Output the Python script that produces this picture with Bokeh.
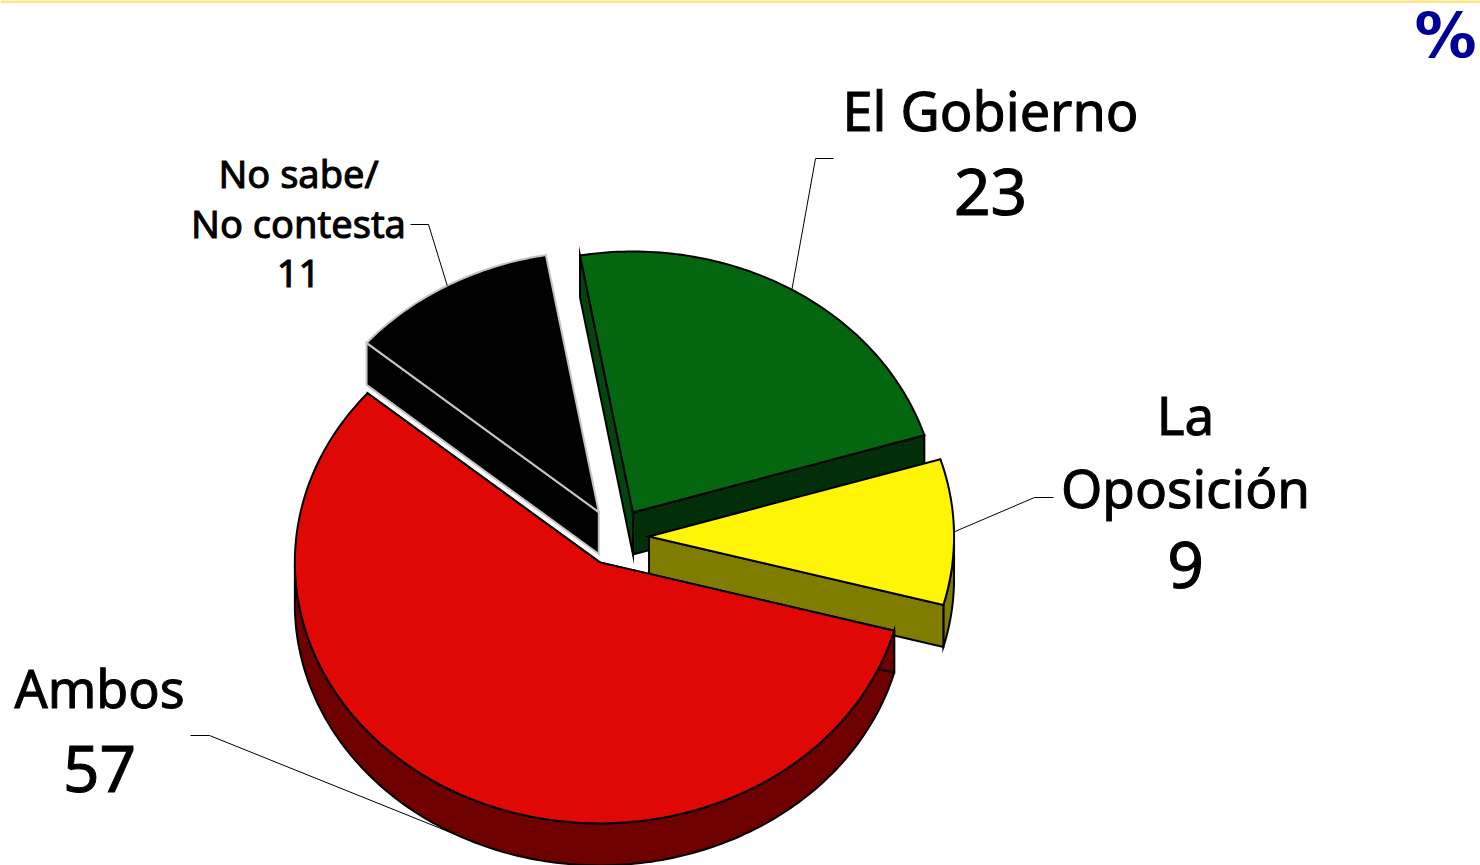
import math
from bokeh.plotting import figure
from bokeh.models import Range1d
from bokeh.core.properties import value
from bokeh.embed import file_html
from bokeh.resources import INLINE

# ---- data
categories = ["El Gobierno", "La Oposición", "Ambos", "No sabe/ No contesta"]
values = [23, 9, 57, 11]

# ---- styles
top_colors = ["#04660F", "#FFF505", "#DF0805", "#000000"]
rim_colors = ["#033C0A", "#807C00", "#6E0000", "#000000"]
start_wall_colors = ["#03450C", "#807C00", "#6E0000", "#000000"]
end_wall_colors = ["#022E08", "#807C00", "#6E0000", "#000000"]
edge_colors = ["#000000", "#000000", "#000000", "#C4C4C4"]
draw_order = [3, 0, 1, 2]

# ---- 3D pie geometry (page pixels)
CX, CY = 615.0, 536.5
RX, RY = 305.0, 261.0
DEPTH = 42.0
EXPLODE = 0.11
START_DEG = 100.0

W, H = 1480, 865
p = figure(width=W, height=H, x_range=Range1d(0, W), y_range=Range1d(H, 0),
           toolbar_location=None, output_backend="svg",
           min_border=0, outline_line_color=None, background_fill_color="white",
           border_fill_color="white")
p.axis.visible = False
p.grid.visible = False


def poly(xs, ys, fill, edge, lw=2):
    p.patch(xs, ys, fill_color=fill, line_color=edge, line_width=lw, line_join="miter")


def wall(ax, ay, bx, by, fill, edge):
    poly([ax, bx, bx, ax], [ay, by, by + DEPTH, ay + DEPTH], fill, edge)


total = sum(values)
slices = []
a = START_DEG
for v in values:
    span = v / total * 360
    a0, a1 = a, a - span  # clockwise
    mid = math.radians((a0 + a1) / 2)
    ox = CX + EXPLODE * RX * math.cos(mid)
    oy = CY - EXPLODE * RY * math.sin(mid)
    slices.append((ox, oy, a0, a1, mid))
    a = a1


def rim(s, deg):
    r = math.radians(deg)
    return s[0] + RX * math.cos(r), s[1] - RY * math.sin(r)


for i in draw_order:
    s = slices[i]
    ox, oy, a0, a1, mid = s
    n = max(int(a0 - a1), 2)
    degs = [a0 + (a1 - a0) * k / n for k in range(n + 1)]
    pts = [rim(s, d) for d in degs]
    # rim wall: only the part of the arc that faces the viewer
    vis = [d for d in degs if math.sin(math.radians(d)) <= 0.001]
    if len(vis) >= 2:
        rp = [rim(s, d) for d in vis]
        poly([q[0] for q in rp] + [q[0] for q in rp[::-1]],
             [q[1] for q in rp] + [q[1] + DEPTH for q in rp[::-1]],
             rim_colors[i], "#000000" if i != 3 else edge_colors[i])
    # cut walls that face the viewer
    for (ex, ey), col in ((pts[0], start_wall_colors[i]), (pts[-1], end_wall_colors[i])):
        other = pts[-1] if (ex, ey) == pts[0] else pts[0]
        dx, dy = ex - ox, ey - oy
        nx, ny = -dy, dx
        if nx * (other[0] - ox) + ny * (other[1] - oy) > 0:
            nx, ny = -nx, -ny
        if ny > 0:
            wall(ox, oy, ex, ey, col, edge_colors[i])
    poly([ox] + [q[0] for q in pts], [oy] + [q[1] for q in pts], top_colors[i], edge_colors[i])

# ---- leader lines: elbow points are layout, the ends sit on each slice's mid-arc
leaders = {
    0: [(833, 158), (815, 158)],
    1: [(1053, 497), (1034, 497)],
    2: [(190, 735), (209, 735)],
    3: [(410, 224), (428, 224)],
}
for i, el in leaders.items():
    s = slices[i]
    ex = s[0] + RX * math.cos(s[4])
    ey = s[1] - RY * math.sin(s[4]) + (DEPTH if math.sin(s[4]) < 0 else 0)
    p.line([q[0] for q in el] + [ex], [q[1] for q in el] + [ey], line_color="#000000", line_width=1)

# ---- labels (the SVG text sits about 0.4 em under the requested baseline)
FONT = "Noto Sans"
BASE = 0.41
labels = [
    ("El Gobierno", 990, 132, 54), (str(values[0]), 990, 217.5, 64),
    ("La", 1185, 436, 53), ("Oposición", 1185, 509, 53), (str(values[1]), 1185, 591, 64),
    ("Ambos", 99, 708, 52), (str(values[2]), 99, 794.5, 64),
    ("No sabe/", 298, 188, 38), ("No contesta", 298, 238, 38), (str(values[3]), 298, 289, 38),
]
for t, x, y, fs in labels:
    p.text([x], [y - BASE * fs], text=[t], text_font=value(FONT), text_font_size=f"{fs}px",
           text_align="center", text_baseline="alphabetic", text_color="#000000",
           text_outline_color="#000000")

p.text([1414], [60 - BASE * 62], text=["%"], text_font=value("DejaVu Sans"), text_font_size="62px",
       text_font_style="bold", text_align="left", text_baseline="alphabetic", text_color="#000099")

# top rule
p.line([0, W], [1, 1], line_color="#FFE680", line_width=3)

open("out.html", "w").write(file_html(p, INLINE))
